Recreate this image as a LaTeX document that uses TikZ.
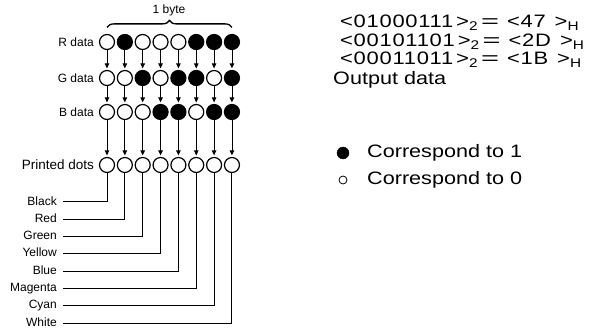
\documentclass[tikz,border=0pt]{standalone}
\usepackage{fontspec}
\setmainfont{Liberation Sans}
\newfontfamily\widefont[FakeStretch=1.2]{Liberation Sans}
\newfontfamily\hexfont[FakeStretch=1.22, LetterSpace=4]{Liberation Sans}
\usetikzlibrary{arrows.meta,decorations.pathreplacing}
\tikzset{
  bit0/.style={draw, circle, line width=1.2pt, minimum size=15pt, inner sep=0pt},
  bit1/.style={bit0, fill=black},
  rowlabel/.style={font=\fontsize{12}{12}\selectfont, anchor=east, inner sep=0pt},
  colorlabel/.style={rowlabel, text height=8pt, text depth=2pt},
  feed/.style={-{Triangle[length=5pt,width=4.5pt]}, line width=0.9pt, shorten >=1.5pt},
  lead/.style={line width=1pt, shorten >=6pt},
  bigtext/.style={font=\widefont\fontsize{18}{18}\selectfont, anchor=west, inner sep=0pt,
    text height=13pt, text depth=3pt},
  hextext/.style={bigtext, font=\hexfont\fontsize{18}{18}\selectfont},
}
\newcommand{\hexline}[3]{<#1\hspace{3pt}>\textsubscript{2}\hspace{3pt}\scalebox{1.4}[1]{=}\hspace{8pt}<#2\hspace{9pt}>\textsubscript{#3}}

\begin{document}
\begin{tikzpicture}[x=1pt, y=-1pt]
  \useasboundingbox (0,0) rectangle (602,331);
  % data rows
  \node[rowlabel] (rlab) at (94,42) {R data};
  \node[rowlabel] (glab) at (94,78) {G data};
  \node[rowlabel] (blab) at (94,112) {B data};
  \node[rowlabel, font=\fontsize{13.5}{13.5}\selectfont] (plab) at (94,165) {Printed dots};
  \foreach \b [count=\i] in {0,1,0,0,0,1,1,1}
    \node[bit\b] (r\i) at ({107+(\i-1)*17.85},42) {};
  \foreach \b [count=\i] in {0,0,1,0,1,1,0,1}
    \node[bit\b] (g\i) at ({107+(\i-1)*17.85},78) {};
  \foreach \b [count=\i] in {0,0,0,1,1,0,1,1}
    \node[bit\b] (b\i) at ({107+(\i-1)*17.85},112) {};
  \foreach \i in {1,...,8}
    \node[bit0] (p\i) at ({107+(\i-1)*17.85},165) {};
  % byte brace
  \draw[decorate, decoration={brace, amplitude=7pt}, line width=1.3pt]
    ([yshift=6.5pt]r1.north) -- ([yshift=6.5pt]r8.north);
  \node[rowlabel, anchor=center] (byte) at (169,10) {1 byte};
  % flows
  \foreach \i in {1,...,8} {
    \draw[feed] (r\i) -- (g\i);
    \draw[feed] (g\i) -- (b\i);
    \draw[feed] (b\i) -- (p\i);
  }
  % colours of the printed dots
  \foreach \c [count=\i] in {Black,Red,Green,Yellow,Blue,Magenta,Cyan,White} {
    \node[colorlabel] (c\i) at (57,{202+(\i-1)*17.29}) {\c};
    \draw[lead] (p\i) |- (c\i);
  }
  % output data
  \node[hextext] (hexr) at (340,23) {\hexline{01000111}{47}{H}};
  \node[hextext] (hexg) at (340,42) {\hexline{00101101}{2D}{H}};
  \node[hextext] (hexb) at (340,60) {\hexline{00011011}{1B}{H}};
  \node[bigtext] (outlab) at (333,80) {Output data};
  % legend
  \node[draw, circle, fill=black, minimum size=12pt, inner sep=0pt] (one) at (343,153) {};
  \node[bigtext] (onetext) at (367,153) {Correspond to 1};
  \node[draw, circle, line width=0.8pt, minimum size=8pt, inner sep=0pt] (zero) at (343,180) {};
  \node[bigtext] (zerotext) at (367,180) {Correspond to 0};
\end{tikzpicture}
\end{document}
